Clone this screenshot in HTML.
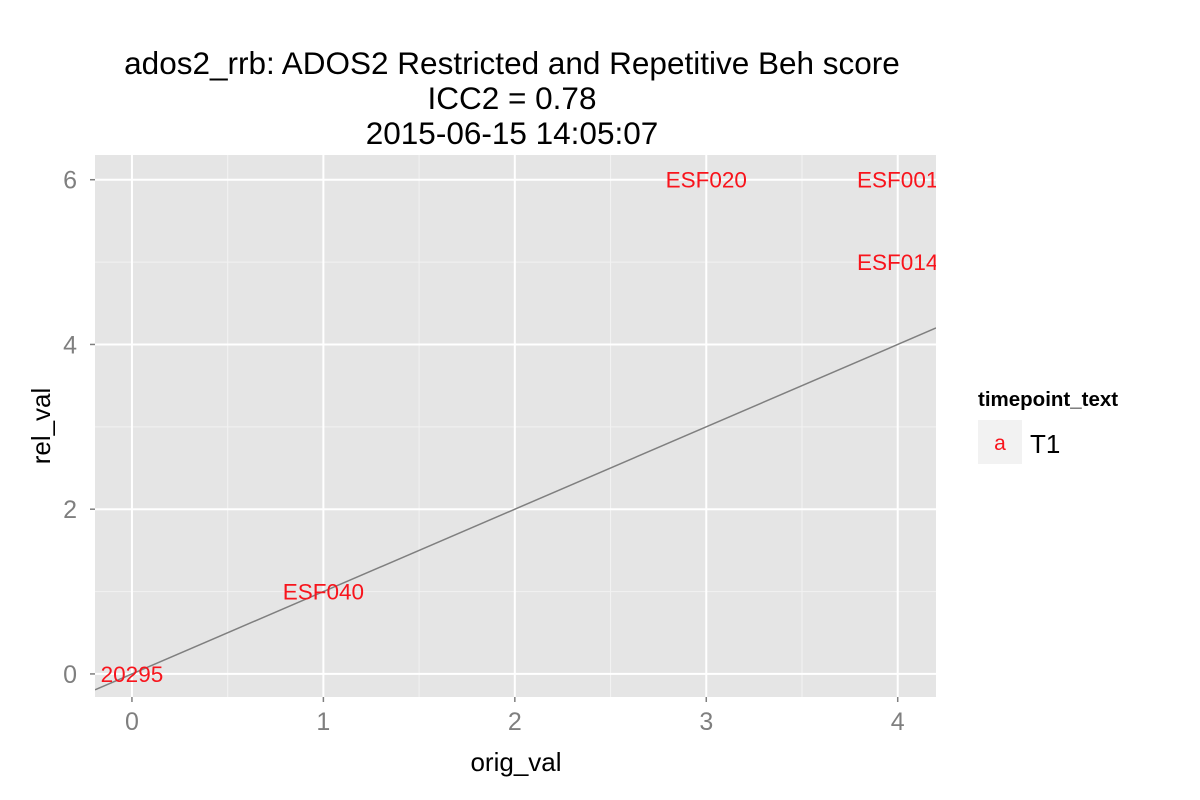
<!DOCTYPE html>
<html><head><meta charset="utf-8"><style>body{margin:0;background:#fff}svg{display:block;font-family:"Liberation Sans",sans-serif}</style></head>
<body>
<svg id="chart" width="1200" height="800">
<defs><clipPath id="pc"><rect x="95" y="155" width="841" height="542"/></clipPath></defs>
<g id="title" font-size="31.5" text-anchor="middle" fill="#000">
<text x="512" y="74">ados2_rrb: ADOS2 Restricted and Repetitive Beh score</text>
<text x="512" y="109">ICC2 = 0.78</text>
<text x="512" y="144">2015-06-15 14:05:07</text>
</g>
<rect x="95" y="155" width="841" height="542" fill="#e5e5e5"/>
<g id="grid"></g>
<g id="marks" clip-path="url(#pc)"></g>
<g id="axes"></g>
<text x="516" y="771" font-size="26" text-anchor="middle">orig_val</text>
<text transform="translate(50,426) rotate(-90)" font-size="26" text-anchor="middle">rel_val</text>
<g>
<text x="978" y="406" font-size="20.5" font-weight="bold">timepoint_text</text>
<rect x="978" y="420" width="44" height="44" fill="#f2f2f2"/>
<text x="1000" y="450" font-size="21" fill="#f8141c" text-anchor="middle">a</text>
<text x="1030" y="453" font-size="26">T1</text>
</g>
</svg>
<script>
const labels=["20295","ESF040","ESF020","ESF001","ESF014"];
const origVals=[0,1,3,4,4];
const relVals=[0,1,6,6,5];
const xTicks=[0,1,2,3,4];
const yTicks=[0,2,4,6];
const NS="http://www.w3.org/2000/svg";
const xMin=-0.193,xMax=4.2,yMin=-0.28,yMax=6.30;
const L=95,R=936,T=155,B=697;
const sx=v=>L+(v-xMin)/(xMax-xMin)*(R-L);
const sy=v=>B-(v-yMin)/(yMax-yMin)*(B-T);
function mk(tag,a,p){const e=document.createElementNS(NS,tag);for(const k in a)e.setAttribute(k,a[k]);p.appendChild(e);return e;}
const grid=document.getElementById('grid'),marks=document.getElementById('marks'),axes=document.getElementById('axes');
for(let v=-0.5;v<=4.5;v+=1){if(v<xMin||v>xMax)continue;const l=mk('line',{x1:sx(v),x2:sx(v),y1:T,y2:B,stroke:'#f2f2f2','stroke-width':1},grid);

}
for(let v=-1;v<=7;v+=2){if(v<yMin||v>yMax)continue;const l=mk('line',{x1:L,x2:R,y1:sy(v),y2:sy(v),stroke:'#f2f2f2','stroke-width':1},grid);

}
xTicks.forEach(v=>{const l=mk('line',{x1:sx(v),x2:sx(v),y1:T,y2:B,stroke:'#fff','stroke-width':2},grid);


const tk=mk('line',{x1:sx(v),x2:sx(v),y1:B,y2:B+5,stroke:'#7f7f7f','stroke-width':1.5},axes);


const t=mk('text',{x:sx(v),y:B+33,'font-size':25,fill:'#7f7f7f','text-anchor':'middle'},axes);t.textContent=v;

});
yTicks.forEach(v=>{const l=mk('line',{x1:L,x2:R,y1:sy(v),y2:sy(v),stroke:'#fff','stroke-width':2},grid);


const tk=mk('line',{x1:L-5,x2:L,y1:sy(v),y2:sy(v),stroke:'#7f7f7f','stroke-width':1.5},axes);


const t=mk('text',{x:L-18,y:sy(v)+9,'font-size':25,fill:'#7f7f7f','text-anchor':'end'},axes);t.textContent=v;

});
const ln=mk('line',{x1:sx(xMin),y1:sy(xMin),x2:sx(xMax),y2:sy(xMax),stroke:'#7f7f7f','stroke-width':1.5},marks);


labels.forEach((s,i)=>{const t=mk('text',{x:sx(origVals[i]),y:sy(relVals[i])+8,'font-size':22.5,fill:'#f8141c','text-anchor':'middle'},marks);t.textContent=s;

});
</script>
</body></html>
